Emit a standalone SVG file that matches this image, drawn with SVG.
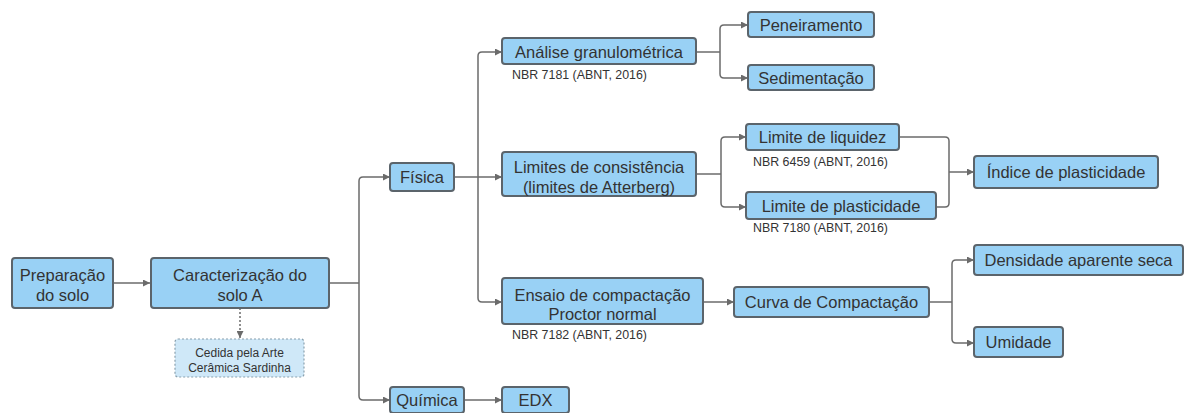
<svg xmlns="http://www.w3.org/2000/svg" width="1186" height="413" viewBox="0 0 1186 413">
<defs>
<marker id="ah" viewBox="0 0 10 10" refX="10" refY="5" markerWidth="8" markerHeight="7" markerUnits="userSpaceOnUse" orient="auto">
<path d="M0,0 L10,5 L0,10 z" fill="#6b6b6b"/>
</marker>
<style>
.box{fill:#99d1f5;stroke:#5b646b;stroke-width:2}
.note{fill:#cfe8f8;stroke:#8aa0ad;stroke-width:1.2;stroke-dasharray:2 2}
.t{font-family:"Liberation Sans",Arial,sans-serif;font-size:16.5px;fill:#333;text-anchor:middle}
.s{font-family:"Liberation Sans",Arial,sans-serif;font-size:12.4px;fill:#333}
.sc{font-family:"Liberation Sans",Arial,sans-serif;font-size:12px;fill:#333;text-anchor:middle}
.c{fill:none;stroke:#6b6b6b;stroke-width:1.5}
.ca{fill:none;stroke:#6b6b6b;stroke-width:1.5;marker-end:url(#ah)}
</style>
</defs>
<rect width="1186" height="413" fill="#ffffff"/>
<g id="connectors">
<path class="ca" d="M113,283 H150"/>
<path class="c" d="M329,283 H359"/>
<path class="ca" d="M359,283 V181 Q359,177 363,177 H390"/>
<path class="ca" d="M359,283 V396 Q359,400 363,400 H390"/>
<path class="c" d="M454,177 H478"/>
<path class="ca" d="M478,177 V56 Q478,52 482,52 H502"/>
<path class="ca" d="M478,177 H502"/>
<path class="ca" d="M478,177 V298 Q478,302 482,302 H502"/>
<path class="ca" d="M464,400 H502"/>
<path class="c" d="M696,52 H720"/>
<path class="ca" d="M720,52 V29 Q720,25 724,25 H748"/>
<path class="ca" d="M720,52 V74 Q720,78 724,78 H748"/>
<path class="c" d="M696,174 H721"/>
<path class="ca" d="M721,174 V141 Q721,137 725,137 H746"/>
<path class="ca" d="M721,174 V203 Q721,207 725,207 H746"/>
<path class="c" d="M899,137 H945 Q949,137 949,141 V203 Q949,207 945,207 H936"/>
<path class="ca" d="M949,172 H974"/>
<path class="ca" d="M703,302 H734"/>
<path class="c" d="M929,302 H952"/>
<path class="ca" d="M952,302 V264 Q952,260 956,260 H974"/>
<path class="ca" d="M952,302 V339 Q952,343 956,343 H974"/>
<path class="ca" d="M240,308 V338" stroke-dasharray="2 2"/>
</g>
<g id="n-preparacao">
<rect class="box" x="12" y="258" width="101" height="50" rx="3"/>
<text class="t" x="62.5" y="281">Preparação</text>
<text class="t" x="62.5" y="301">do solo</text>
</g>
<g id="n-caracterizacao">
<rect class="box" x="151" y="258" width="178" height="50" rx="3"/>
<text class="t" x="240" y="281">Caracterização do</text>
<text class="t" x="240" y="301">solo A</text>
</g>
<g id="n-cedida">
<rect class="note" x="175" y="339" width="129" height="38" rx="3"/>
<text class="sc" x="239.5" y="357">Cedida pela Arte</text>
<text class="sc" x="239.5" y="372">Cerâmica Sardinha</text>
</g>
<g id="n-fisica">
<rect class="box" x="390" y="163" width="64" height="28" rx="3"/>
<text class="t" x="422" y="183">Física</text>
</g>
<g id="n-quimica">
<rect class="box" x="390" y="387" width="74" height="26" rx="3"/>
<text class="t" x="427" y="406">Química</text>
</g>
<g id="n-edx">
<rect class="box" x="502" y="387" width="67" height="26" rx="3"/>
<text class="t" x="535.5" y="406">EDX</text>
</g>
<g id="n-analise">
<rect class="box" x="502" y="38" width="194" height="26" rx="3"/>
<text class="t" x="599" y="58">Análise granulométrica</text>
<text class="s" x="512" y="79">NBR 7181 (ABNT, 2016)</text>
</g>
<g id="n-peneiramento">
<rect class="box" x="748" y="12" width="126" height="25" rx="3"/>
<text class="t" x="811" y="30.5">Peneiramento</text>
</g>
<g id="n-sedimentacao">
<rect class="box" x="748" y="65" width="126" height="25" rx="3"/>
<text class="t" x="811" y="83.5">Sedimentação</text>
</g>
<g id="n-limites">
<rect class="box" x="502" y="152" width="194" height="44" rx="3"/>
<text class="t" x="599" y="173">Limites de consistência</text>
<text class="t" x="599" y="193">(limites de Atterberg)</text>
</g>
<g id="n-liquidez">
<rect class="box" x="746" y="124" width="153" height="26" rx="3"/>
<text class="t" x="822.5" y="143">Limite de liquidez</text>
<text class="s" x="753" y="166">NBR 6459 (ABNT, 2016)</text>
</g>
<g id="n-plasticidade">
<rect class="box" x="746" y="192" width="190" height="27" rx="3"/>
<text class="t" x="841" y="211.5">Limite de plasticidade</text>
<text class="s" x="753" y="232">NBR 7180 (ABNT, 2016)</text>
</g>
<g id="n-indice">
<rect class="box" x="974" y="156" width="184" height="32" rx="3"/>
<text class="t" x="1066" y="177.5">Índice de plasticidade</text>
</g>
<g id="n-ensaio">
<rect class="box" x="502" y="278" width="201" height="46" rx="3"/>
<text class="t" x="602.5" y="301">Ensaio de compactação</text>
<text class="t" x="602.5" y="320">Proctor normal</text>
<text class="s" x="512" y="339">NBR 7182 (ABNT, 2016)</text>
</g>
<g id="n-curva">
<rect class="box" x="734" y="287" width="195" height="30" rx="3"/>
<text class="t" x="831.5" y="307.5">Curva de Compactação</text>
</g>
<g id="n-densidade">
<rect class="box" x="974" y="245" width="209" height="30" rx="3"/>
<text class="t" x="1078.5" y="265.5">Densidade aparente seca</text>
</g>
<g id="n-umidade">
<rect class="box" x="974" y="327" width="89" height="30" rx="3"/>
<text class="t" x="1018.5" y="347.5">Umidade</text>
</g>
</svg>
